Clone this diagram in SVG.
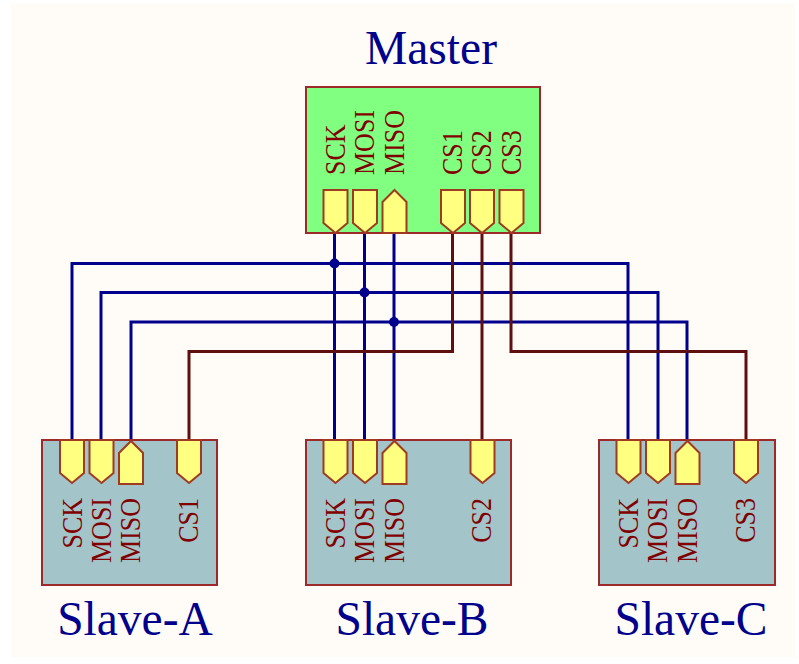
<svg xmlns="http://www.w3.org/2000/svg" width="799" height="664" viewBox="0 0 799 664">
  <style>
    .master { fill: #80ff80; stroke: #9c2a2a; stroke-width: 2; }
    .slave { fill: #a3c5ca; stroke: #9c2a2a; stroke-width: 2; }
    .pin { fill: #ffff80; stroke: #a03a20; stroke-width: 2; }
    .bus { fill: none; stroke: #00008c; stroke-width: 3; }
    .sel { fill: none; stroke: #5e0f0f; stroke-width: 3; }
    .dot { fill: #00008c; }
    text { font-family: "Liberation Serif", "Times New Roman", serif; }
    .title { fill: #00008c; font-size: 47.500px; text-anchor: middle; }
    .lbl { fill: #800000; font-size: 26px; }
  </style>
  <defs>
    <!-- pin outlines, origin at the top centre of the pin -->
    <path id="down" class="pin" d="M-12 0H12V33L0 43L-12 33Z"/>
    <path id="up" class="pin" d="M0 0L12 12V43H-12V12Z"/>
  </defs>
  <rect width="799" height="664" fill="#ffffff"/>
  <rect x="11" y="3" width="784" height="654" fill="#fffcf8"/>

  <g id="connectors">
    <path class="bus" d="M334.500 233V440M364.500 233V440M394 233V440"/>
    <path class="bus" d="M72 440V263.500H628V440"/>
    <path class="bus" d="M101 440V292.500H658V440"/>
    <path class="bus" d="M131 440V322H687V440"/>
    <path class="sel" d="M452.500 233V351.500H189V440"/>
    <path class="sel" d="M482 233V440"/>
    <path class="sel" d="M511 233V351.500H746V440"/>
    <circle class="dot" cx="334.500" cy="263.500" r="5"/>
    <circle class="dot" cx="364.500" cy="292.500" r="5"/>
    <circle class="dot" cx="394" cy="322" r="5"/>
  </g>

  <g id="master">
    <rect class="master" x="306" y="87" width="234" height="146"/>
    <use href="#down" x="335.500" y="190"/>
    <use href="#down" x="365" y="190"/>
    <use href="#up" x="394.500" y="190"/>
    <use href="#down" x="453" y="190"/>
    <use href="#down" x="482" y="190"/>
    <use href="#down" x="511.500" y="190"/>
    <text class="lbl" transform="translate(345 175) rotate(-90) scale(1 1.130)">SCK</text>
    <text class="lbl" transform="translate(374 175) rotate(-90) scale(1 1.130)">MOSI</text>
    <text class="lbl" transform="translate(404 175) rotate(-90) scale(1 1.130)">MISO</text>
    <text class="lbl" transform="translate(462 175) rotate(-90) scale(1 1.130)">CS1</text>
    <text class="lbl" transform="translate(491 175) rotate(-90) scale(1 1.130)">CS2</text>
    <text class="lbl" transform="translate(521 175) rotate(-90) scale(1 1.130)">CS3</text>
    <text class="title" x="431" y="63.500">Master</text>
  </g>

  <g id="slave-a">
    <rect class="slave" x="42" y="440" width="175" height="145"/>
    <use href="#down" x="72" y="440"/>
    <use href="#down" x="101.500" y="440"/>
    <use href="#up" x="131" y="441"/>
    <use href="#down" x="189" y="440"/>
    <text class="lbl" text-anchor="end" transform="translate(82 498) rotate(-90) scale(1 1.130)">SCK</text>
    <text class="lbl" text-anchor="end" transform="translate(111 498) rotate(-90) scale(1 1.130)">MOSI</text>
    <text class="lbl" text-anchor="end" transform="translate(140 498) rotate(-90) scale(1 1.130)">MISO</text>
    <text class="lbl" text-anchor="end" transform="translate(198 498) rotate(-90) scale(1 1.130)">CS1</text>
    <text class="title" x="135" y="635">Slave-A</text>
  </g>

  <g id="slave-b">
    <rect class="slave" x="306" y="440" width="205" height="145"/>
    <use href="#down" x="335.500" y="440"/>
    <use href="#down" x="365" y="440"/>
    <use href="#up" x="394.500" y="441"/>
    <use href="#down" x="482.500" y="440"/>
    <text class="lbl" text-anchor="end" transform="translate(345 498) rotate(-90) scale(1 1.130)">SCK</text>
    <text class="lbl" text-anchor="end" transform="translate(374 498) rotate(-90) scale(1 1.130)">MOSI</text>
    <text class="lbl" text-anchor="end" transform="translate(404 498) rotate(-90) scale(1 1.130)">MISO</text>
    <text class="lbl" text-anchor="end" transform="translate(491 498) rotate(-90) scale(1 1.130)">CS2</text>
    <text class="title" x="412" y="635">Slave-B</text>
  </g>

  <g id="slave-c">
    <rect class="slave" x="599" y="440" width="176" height="145"/>
    <use href="#down" x="628.500" y="440"/>
    <use href="#down" x="658" y="440"/>
    <use href="#up" x="687.500" y="441"/>
    <use href="#down" x="746" y="440"/>
    <text class="lbl" text-anchor="end" transform="translate(638 498) rotate(-90) scale(1 1.130)">SCK</text>
    <text class="lbl" text-anchor="end" transform="translate(667 498) rotate(-90) scale(1 1.130)">MOSI</text>
    <text class="lbl" text-anchor="end" transform="translate(697 498) rotate(-90) scale(1 1.130)">MISO</text>
    <text class="lbl" text-anchor="end" transform="translate(755 498) rotate(-90) scale(1 1.130)">CS3</text>
    <text class="title" x="691" y="635">Slave-C</text>
  </g>
</svg>
